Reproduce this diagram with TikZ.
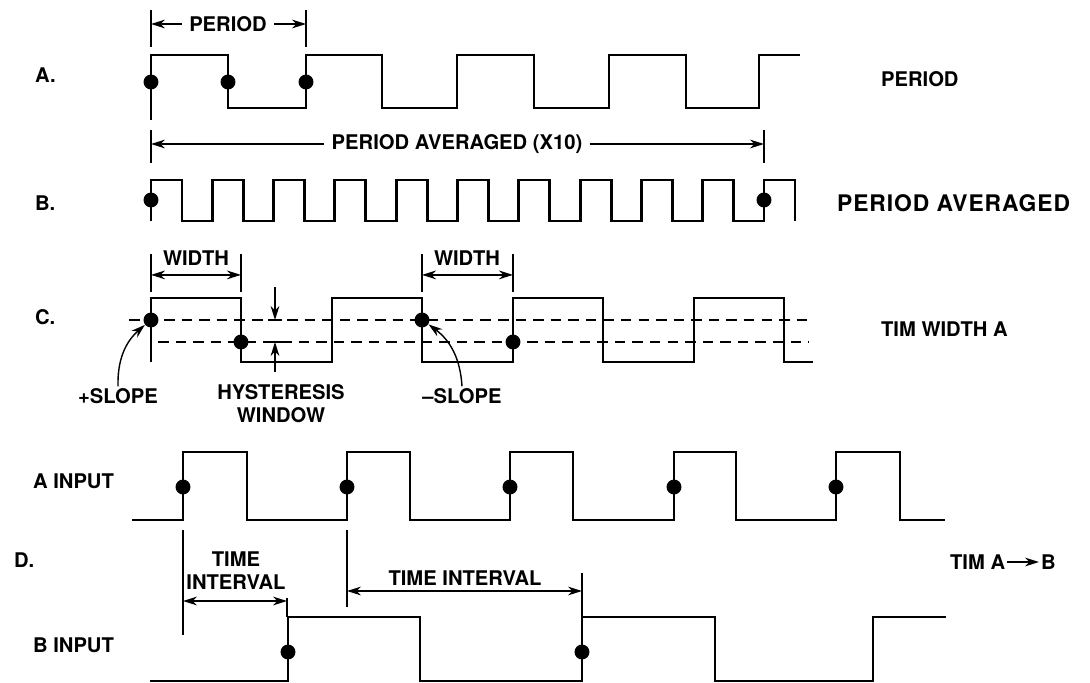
\documentclass[tikz,border=0pt]{standalone}
\usepackage{fontspec}
\setmainfont{TeX Gyre Heros}
\usetikzlibrary{arrows.meta,calc}
\tikzset{
  wave/.style  ={line width=1.6pt, line join=miter},
  dimln/.style ={line width=0.8pt},
  dimarr/.style={dimln, -{Stealth[length=8pt,width=5pt]}},
  dimboth/.style={dimln, {Stealth[length=8pt,width=5pt]}-{Stealth[length=8pt,width=5pt]}},
  thresh/.style={line width=1.2pt, dash pattern=on 6pt off 4pt},
  sdot/.style  ={circle, fill=black, minimum size=8.5pt, inner sep=0pt},
  lbl/.style   ={font=\bfseries\fontsize{11.5}{13}\selectfont, inner sep=1pt},
  rowlbl/.style={lbl, anchor=west},
  widelbl/.style={rowlbl, font=\bfseries\fontsize{13}{15}\selectfont\addfontfeature{LetterSpace=4}},
  dimtxt/.style={lbl, inner sep=4pt},
}
\begin{document}
\begin{tikzpicture}[x=0.02cm, y=-0.02cm]
  \useasboundingbox (0,0) rectangle (1090,683);
  % row labels
  \node[rowlbl] (la) at (33,75) {A.};
  \node[rowlbl] (lb) at (33,203) {B.};
  \node[rowlbl] (lc) at (33,317) {C.};
  \node[rowlbl] (lai) at (31,481) {A INPUT};
  \node[rowlbl] (ld) at (12,560) {D.};
  \node[rowlbl] (lbi) at (31,645) {B INPUT};
  \node[rowlbl] (ra) at (879,79) {PERIOD};
  \node[widelbl] (rb) at (835,203) {PERIOD AVERAGED};
  \node[rowlbl] (rc) at (879,329) {TIM WIDTH A};
  \node[rowlbl] (rda) at (948,562) {TIM A};
  \node[rowlbl] (rdb) at (1039,562) {B};
  \draw[dimarr] (rda.east) -- (rdb.west);

  % A. period
  \draw[wave] (151,120) |- (228,55) |- (306,108) |- (382,55) |- (457,108) |- (534,55)
    |- (609,108) |- (686,55) |- (759,108) |- (800,55);
  \node[sdot] (a1) at (151,82) {};
  \node[sdot] (a2) at (228,82) {};
  \node[sdot] (a3) at (306,82) {};
  \coordinate (pa1) at (151,10); \coordinate (pa2) at (151,47);
  \coordinate (pb1) at (306,10); \coordinate (pb2) at (306,47);
  \draw[dimln] (pa1) -- (pa2);
  \draw[dimln] (pb1) -- (pb2);
  \node[dimtxt] (tper) at (228,24) {PERIOD};
  \draw[dimarr] (tper.west) -- (tper.west -| pa1);
  \draw[dimarr] (tper.east) -- (tper.east -| pb1);

  % B. period averaged
  \draw[wave] (151,221) foreach \k in {0,...,9} { |- ({182+61.3*\k},180) |- ({212.3+61.3*\k},221) }
    |- (795,180) -- (795,221);
  \node[sdot] (b1) at (151,200) {};
  \node[sdot] (b2) at (764,200) {};
  \coordinate (qa1) at (151,130); \coordinate (qa2) at (151,163);
  \coordinate (qb1) at (764,130); \coordinate (qb2) at (764,163);
  \draw[dimln] (qa1) -- (qa2);
  \draw[dimln] (qb1) -- (qb2);
  \node[dimtxt] (tavg) at (457,144) {PERIOD AVERAGED (X10)};
  \draw[dimarr] (tavg.west) -- (tavg.west -| qa1);
  \draw[dimarr] (tavg.east) -- (tavg.east -| qb1);

  % C. width
  \draw[thresh] (129,320) -- (809,320);
  \draw[thresh] (158,342) -- (809,342);
  \draw[wave] (151,362) |- (241,298) |- (332,362) |- (422,298) |- (513,362) |- (603,298)
    |- (694,362) |- (784,298) |- (813,362);
  \node[sdot] (c1) at (151,320) {};
  \node[sdot] (c2) at (241,342) {};
  \node[sdot] (c3) at (422,320) {};
  \node[sdot] (c4) at (513,342) {};
  \coordinate (wa1) at (151,254); \coordinate (wa2) at (151,292);
  \coordinate (wb1) at (241,254); \coordinate (wb2) at (241,292);
  \coordinate (wc1) at (422,254); \coordinate (wc2) at (422,292);
  \coordinate (wd1) at (513,254); \coordinate (wd2) at (513,292);
  \foreach \t in {wa,wb,wc,wd} \draw[dimln] (\t1) -- (\t2);
  \draw[dimboth] ($(wa1)!0.55!(wa2)$) -- ($(wb1)!0.55!(wb2)$);
  \draw[dimboth] ($(wc1)!0.55!(wc2)$) -- ($(wd1)!0.55!(wd2)$);
  \node[lbl] (tw1) at (196,258) {WIDTH};
  \node[lbl] (tw2) at (467,258) {WIDTH};
  \coordinate (hu) at (275,320); \coordinate (hut) at (275,287);
  \coordinate (hl) at (275,342); \coordinate (hlb) at (275,372);
  \draw[dimarr] (hut) -- (hu);
  \draw[dimarr] (hlb) -- (hl);
  \draw[dimln] ($(hu)+(-7,0)$) -- ($(hu)+(7,0)$);
  \draw[dimln] ($(hl)+(-7,0)$) -- ($(hl)+(7,0)$);
  \node[lbl] (ps) at (118,396) {+SLOPE};
  \node[lbl, align=center] (hy) at (281,404) {HYSTERESIS\\WINDOW};
  \node[lbl] (ms) at (462,396) {--SLOPE};
  \draw[dimarr] (ps.north) to[bend left=25] (c1);
  \draw[dimarr] (ms.north) to[bend right=25] (c3);

  % D. time interval A -> B
  \draw[wave] (132,520) -| (183,452) -| (247,520) -| (347,452) -| (410,520) -| (510,452)
    -| (573,520) -| (674,452) -| (736,520) -| (836,452) -| (900,520) -- (945,520);
  \foreach \x [count=\i] in {183,347,510,674,836}
    \node[sdot] (d\i) at (\x,487) {};
  \draw[wave] (150,681) -| (288,617) -| (420,681) -| (582,617) -| (715,681) -| (873,617) -- (946,617);
  \node[sdot] (e1) at (288,652) {};
  \node[sdot] (e2) at (582,652) {};
  \coordinate (ia1) at (183,530); \coordinate (ia2) at (183,635);
  \coordinate (ib1) at (287,598); \coordinate (ib2) at (287,617);
  \coordinate (ic1) at (347,530); \coordinate (ic2) at (347,607);
  \coordinate (id1) at (582,573); \coordinate (id2) at (582,617);
  \foreach \t in {ia,ib,ic,id} \draw[dimln] (\t1) -- (\t2);
  \draw[dimboth] (ia1 |- 0,601) -- (ib1 |- 0,601);
  \draw[dimboth] (ic1 |- 0,591) -- (id1 |- 0,591);
  \node[lbl, align=center] (ti1) at (236,571) {TIME\\INTERVAL};
  \node[lbl] (ti2) at (465,578) {TIME INTERVAL};
\end{tikzpicture}
\end{document}
